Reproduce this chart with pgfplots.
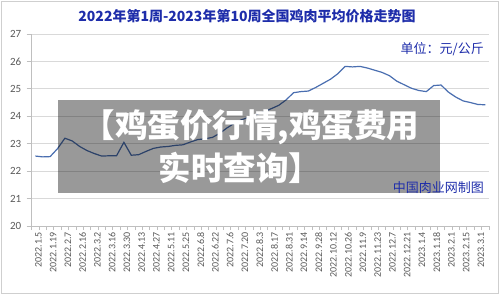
\documentclass[border=0pt]{standalone}
\usepackage{pgfplots}
\pgfplotsset{compat=1.18}
\usepackage{fontspec}
\setmainfont{Carlito}
\newfontfamily\cjk{Noto Sans CJK SC}
\newfontfamily\cjkblack{Noto Sans CJK SC Black}
\definecolor{linec}{HTML}{4A6EB0}
\definecolor{titlec}{RGB}{30,45,170}
\definecolor{gridc}{HTML}{D9D9D9}
\definecolor{axisc}{HTML}{BFBFBF}
\definecolor{labc}{HTML}{595959}
\definecolor{bordc}{HTML}{CFCFCF}
\pgfplotstableread{
x y
0 22.55
1 22.52
2 22.53
3 22.82
4 23.20
5 23.10
6 22.90
7 22.75
8 22.64
9 22.55
10 22.56
11 22.56
12 23.05
13 22.58
14 22.60
15 22.72
16 22.83
17 22.88
18 22.90
19 22.94
20 22.96
21 23.06
22 23.15
23 23.18
24 23.23
25 23.38
26 23.58
27 23.75
28 23.88
29 23.97
30 24.07
31 24.17
32 24.28
33 24.40
34 24.60
35 24.86
36 24.90
37 24.92
38 25.05
39 25.20
40 25.35
41 25.55
42 25.82
43 25.80
44 25.82
45 25.76
46 25.68
47 25.60
48 25.48
49 25.28
50 25.15
51 25.02
52 24.94
53 24.90
54 25.12
55 25.14
56 24.88
57 24.70
58 24.56
59 24.50
60 24.43
61 24.42
}\datatable
\begin{document}
\begin{tikzpicture}[x=1pt,y=1pt]
\useasboundingbox (0,0) rectangle (500,295);
\draw[color=bordc, line width=0.8pt] (1.5,1.5) rectangle (498.5,293.5);
\begin{axis}[
  at={(31.7pt,69pt)}, anchor=south west,
  scale only axis, width=457.3pt, height=192pt,
  xmin=-0.5, xmax=61.5, ymin=20, ymax=27,
  axis x line*=bottom, axis y line*=left,
  axis line style={draw=axisc, line width=0.8pt},
  ytick={20,21,...,27},
  ymajorgrids, grid style={draw=gridc, line width=0.8pt},
  xtick={0,2,...,60},
  xticklabels={2022.1.5,2022.1.19,2022.2.7,2022.2.16,2022.3.2,2022.3.16,2022.3.30,2022.4.13,2022.4.27,2022.5.11,2022.5.25,2022.6.8,2022.6.22,2022.7.6,2022.7.20,2022.8.3,2022.8.17,2022.8.31,2022.9.14,2022.9.28,2022.10.12,2022.10.26,2022.11.9,2022.11.23,2022.12.7,2022.12.21,2023.1.4,2023.1.18,2023.2.1,2023.2.15,2023.3.1},
  minor xtick={-0.5,0.5,...,61.5},
  tick align=outside,
  major tick length=5pt, minor tick length=4pt,
  major x tick style={draw=none},
  tick style={draw=axisc, line width=0.8pt},
  xticklabel style={rotate=90, anchor=east, font=\fontsize{10}{12}\selectfont, text=labc, inner sep=1pt, yshift=-3pt},
  yticklabel style={font=\fontsize{11}{13}\selectfont, text=labc, xshift=-2pt},
  /pgf/number format/assume math mode=true,
  clip=false,
]
\addplot[color=linec, line width=1.2pt, mark=none] table[x=x,y=y] {\datatable};
\end{axis}
\node[font=\cjk\bfseries\fontsize{14}{16}\selectfont, text=titlec] at (247,279) {2022年第1周-2023年第10周全国鸡肉平均价格走势图};
\node[anchor=east, font=\cjk\fontsize{13}{15}\selectfont, text=titlec, inner sep=0pt] at (484,246) {单位：元/公斤};
\fill[black, fill opacity=0.4] (58,102) rectangle (440,195);
\node[anchor=east, font=\cjk\fontsize{13}{15}\selectfont, text=titlec, inner sep=0pt] at (484,107) {中国肉业网制图};
\node[text=white, font=\cjkblack\fontsize{32.5}{36}\selectfont] at (251,168) {【鸡蛋价行情,鸡蛋费用};
\node[text=white, font=\cjkblack\fontsize{32.5}{36}\selectfont] at (240,127) {实时查询】};
\end{tikzpicture}
\end{document}
